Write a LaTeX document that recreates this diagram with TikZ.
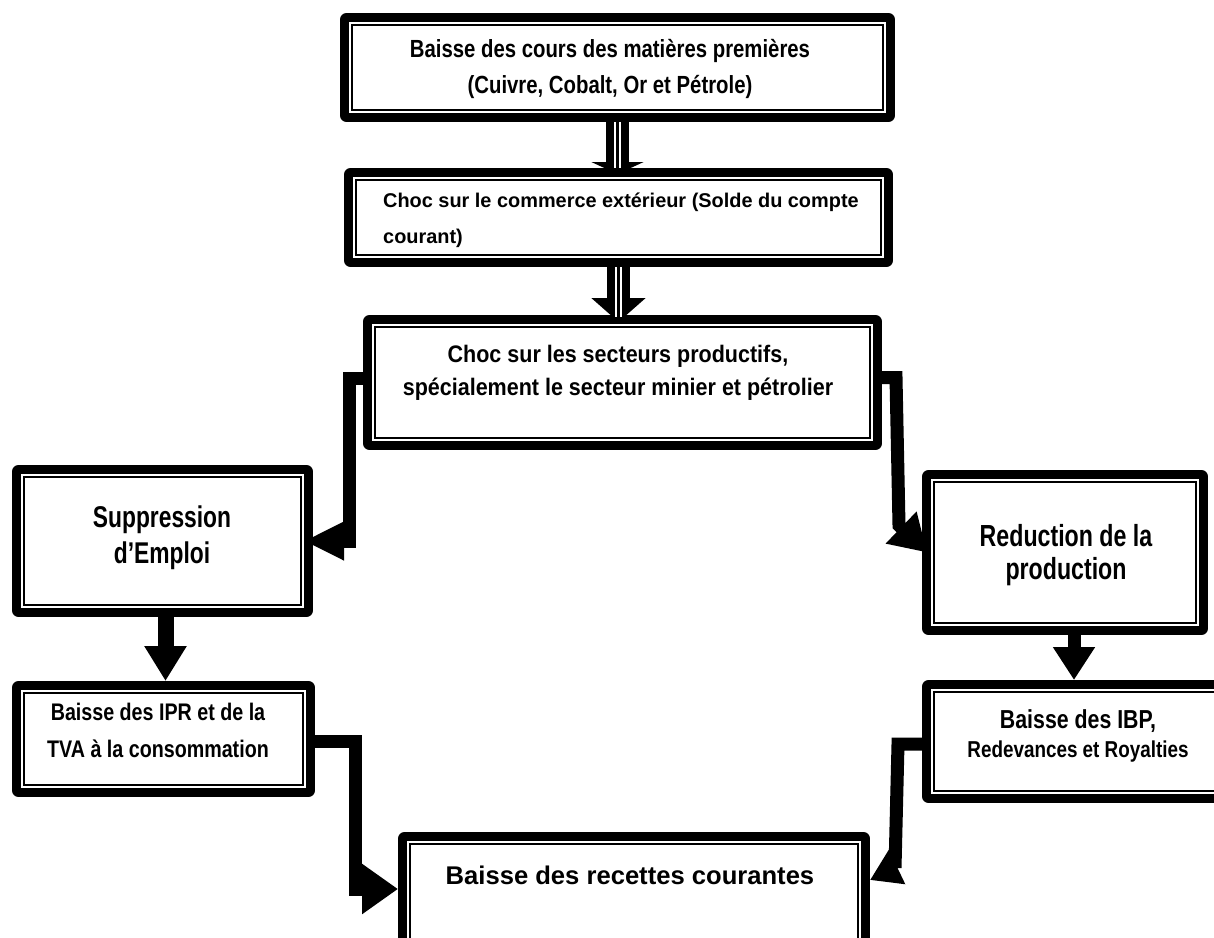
\documentclass[tikz,border=0pt]{standalone}
\usepackage{fontspec}
\setmainfont{Liberation Sans}
\newfontfamily\etroite{Liberation Sans}[FakeStretch=0.82]
\newfontfamily\serree{Liberation Sans}[FakeStretch=0.76]
\newfontfamily\demi{Liberation Sans}[FakeStretch=0.9]
\usetikzlibrary{arrows.meta}

\tikzset{
  boite/.style 2 args={draw, fill=white, line width=13pt, line join=round,
    outer sep=6.5pt, inner sep=0pt, minimum width=#1pt, minimum height=#2pt},
  filet/.style={white, line width=1.7pt},
  txt/.style={inner sep=0pt, align=center, anchor=base},
  fleche/.style={line width=13pt, -{Triangle[width=36pt,length=40pt]}},
  large/.style={line width=23pt},
  rayure/.style={white, line width=1.7pt, double=black, double distance=3pt},
}

\begin{document}
\begin{tikzpicture}[x=1pt, y=-1pt]
        \clip (0,0) rectangle (1214,937);
        % cadres
        \node[boite={542}{96}] (b1) at (617.5,67.5) {};
        \node[boite={536}{86}] (b2) at (618.5,217.5) {};
        \node[boite={506}{122}] (b3) at (622.5,382.5) {};
        \node[boite={288}{139}] (b4) at (162.5,541) {};
        \node[boite={273}{152}] (b5) at (1065,552.5) {};
        \node[boite={290}{103}] (b6) at (163.5,739) {};
        \node[boite={310}{110}] (b7) at (1083.5,741.5) {};
        \node[boite={459}{117}] (b8) at (634,897) {};
        % fleches
        \draw[large, -{Triangle[width=52pt,length=12pt]}, shorten >=-6pt] (b1.south) -- (b1.south |- b2.north);
        \draw[large, -{Triangle[width=53pt,length=24pt]}, shorten >=-7pt] (b2.south) -- (b2.south |- b3.north);
        \draw[fleche] ([yshift=4pt]b3.west) -- ++(-13.5,0) |- ([xshift=-9pt]b4.east);
        \draw[fleche, -{Triangle[width=42pt,length=36pt]}] ([yshift=5pt]b3.east) -- ++(14,0) -- ++(3,148) -- ([xshift=5pt]b5.west);
        \draw[fleche, line width=16pt, -{Triangle[width=40pt,length=35pt]}] ([xshift=3pt]b4.south) -- ++(0,64);
        \draw[fleche, -{Triangle[width=40pt,length=33pt]}] ([xshift=9pt]b5.south) -- ++(0,45);
        \draw[fleche, -{Triangle[width=48pt,length=36pt]}] ([yshift=-2pt]b6.east) -- ++(40,0) |- ([yshift=8pt]b8.west);
        \draw[fleche, -{Triangle[width=36pt,length=30pt]}] ([yshift=-2.5pt]b7.west) -- ++(-24,0) -- ++(-3,124) -- ([yshift=17pt]b8.east);
        \draw[rayure] (b1.south) -- (b1.south |- b2.north);
        \draw[rayure, shorten >=-2pt] (b2.south) -- (b2.south |- b3.north);
        % filets interieurs
        \draw[filet] ([shift={(10.15,10.15)}]b1.north west) rectangle ([shift={(-10.15,-10.15)}]b1.south east);
        \draw[filet] ([shift={(10.15,10.15)}]b2.north west) rectangle ([shift={(-10.15,-10.15)}]b2.south east);
        \draw[filet] ([shift={(10.15,10.15)}]b3.north west) rectangle ([shift={(-10.15,-10.15)}]b3.south east);
        \draw[filet] ([shift={(10.15,10.15)}]b4.north west) rectangle ([shift={(-10.15,-10.15)}]b4.south east);
        \draw[filet] ([shift={(10.15,10.15)}]b5.north west) rectangle ([shift={(-10.15,-10.15)}]b5.south east);
        \draw[filet] ([shift={(10.15,10.15)}]b6.north west) rectangle ([shift={(-10.15,-10.15)}]b6.south east);
        \draw[filet] ([shift={(10.15,10.15)}]b7.north west) rectangle ([shift={(-10.15,-10.15)}]b7.south east);
        \draw[filet] ([shift={(10.15,10.15)}]b8.north west) rectangle ([shift={(-10.15,-10.15)}]b8.south east);
        % textes (ancre = ligne de base de la derniere ligne)
        \node[txt, font=\etroite\bfseries\fontsize{24.8}{36}\selectfont] (t1) at (610,93)
            {Baisse des cours des matières premières\\(Cuivre, Cobalt, Or et Pétrole)};
        \node[txt, anchor=base west, align=left, font=\bfseries\fontsize{19.9}{36}\selectfont] (t2) at (383,243)
            {Choc sur le commerce extérieur (Solde du compte\\courant)};
        \node[txt, font=\demi\bfseries\fontsize{23.9}{33}\selectfont] (t3) at (618,395)
            {Choc sur les secteurs productifs,\\spécialement le secteur minier et pétrolier};
        \node[txt, font=\serree\bfseries\fontsize{30}{36}\selectfont] (t4) at (162,563)
            {Suppression\\d’Emploi};
        \node[txt, font=\serree\bfseries\fontsize{30.5}{33}\selectfont] (t5) at (1066,579)
            {Reduction de la\\production};
        \node[txt, font=\etroite\bfseries\fontsize{24}{37}\selectfont] (t6) at (158,757)
            {Baisse des IPR et de la\\TVA à la consommation};
        \node[txt, font=\etroite\bfseries\fontsize{23}{29}\selectfont] (t7) at (1078,757)
            {{\fontsize{26}{29}\selectfont Baisse des IBP,}\\Redevances et Royalties};
        \node[txt, font=\bfseries\fontsize{25.6}{30}\selectfont] (t8) at (630,884)
            {Baisse des recettes courantes};
\end{tikzpicture}
\end{document}
